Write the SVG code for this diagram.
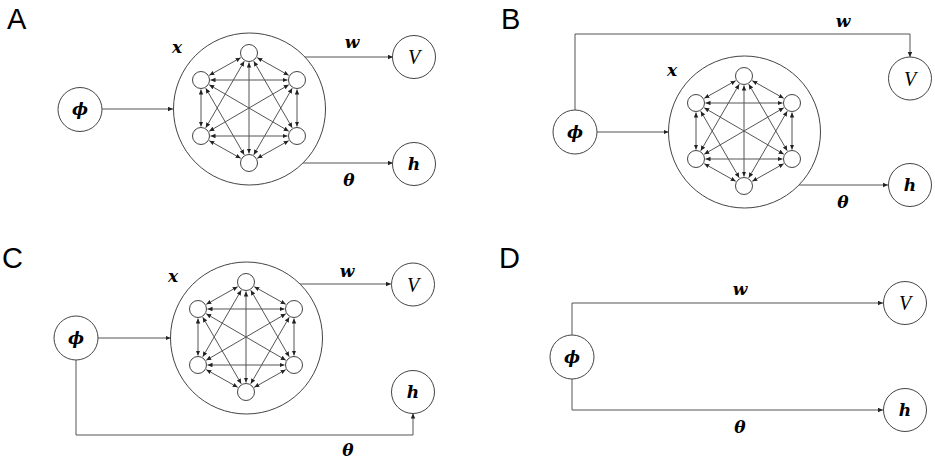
<svg xmlns="http://www.w3.org/2000/svg" xmlns:xlink="http://www.w3.org/1999/xlink" width="935" height="461" viewBox="0 0 935 461">
<style>
.bg{fill:#ffffff}
.nd{fill:#ffffff;stroke:#444;stroke-width:1}
.ln{fill:none;stroke:#555;stroke-width:1}
.ar{marker-end:url(#ah)}
.bi{marker-start:url(#ah);marker-end:url(#ah)}
.panel{font-family:"Liberation Sans",Arial,sans-serif;font-size:29px;fill:#000}
.m{font-family:"DejaVu Serif","Liberation Serif",serif;font-size:17px;font-style:italic;font-weight:bold;fill:#000;text-anchor:middle}
.mv{font-family:"Liberation Serif","DejaVu Serif",serif;font-size:20px;font-style:italic;fill:#000;text-anchor:middle}
</style>
<defs>
<marker id="ah" markerUnits="userSpaceOnUse" markerWidth="6" markerHeight="5" refX="5" refY="2.25" orient="auto-start-reverse">
<path d="M0,0 L5,2.25 L0,4.5 z" fill="#222"/>
</marker>
<g id="mesh">
<g class="ln">
<line class="bi" x1="8.28" y1="-50.34" x2="39.72" y2="-32.66"/>
<line class="bi" x1="4.76" y1="-46.78" x2="43.24" y2="19.78"/>
<line class="bi" x1="0" y1="-45.5" x2="0" y2="45.5"/>
<line class="bi" x1="-4.76" y1="-46.78" x2="-43.24" y2="19.78"/>
<line class="bi" x1="-8.28" y1="-50.34" x2="-39.72" y2="-32.66"/>
<line class="bi" x1="48" y1="-18.5" x2="48" y2="18.5"/>
<line class="bi" x1="43.24" y1="-19.78" x2="4.76" y2="46.78"/>
<line class="bi" x1="39.79" y1="-23.21" x2="-39.79" y2="23.21"/>
<line class="bi" x1="38.5" y1="-28" x2="-38.5" y2="-28"/>
<line class="bi" x1="39.72" y1="32.66" x2="8.28" y2="50.34"/>
<line class="bi" x1="38.5" y1="28" x2="-38.5" y2="28"/>
<line class="bi" x1="39.79" y1="23.21" x2="-39.79" y2="-23.21"/>
<line class="bi" x1="-8.28" y1="50.34" x2="-39.72" y2="32.66"/>
<line class="bi" x1="-4.76" y1="46.78" x2="-43.24" y2="-19.78"/>
<line class="bi" x1="-48" y1="18.5" x2="-48" y2="-18.5"/>
</g>
<circle class="nd" cx="0" cy="-55" r="8.5"/>
<circle class="nd" cx="48" cy="-28" r="8.5"/>
<circle class="nd" cx="48" cy="28" r="8.5"/>
<circle class="nd" cx="0" cy="55" r="8.5"/>
<circle class="nd" cx="-48" cy="28" r="8.5"/>
<circle class="nd" cx="-48" cy="-28" r="8.5"/>
</g>
</defs>
<rect class="bg" x="0" y="0" width="935" height="461"/>

<!-- Panel labels -->
<text class="panel" x="7" y="29">A</text>
<text class="panel" x="501" y="29">B</text>
<text class="panel" x="2" y="268">C</text>
<text class="panel" x="499" y="268">D</text>

<!-- Connectors -->
<g id="connectors" class="ln">
<!-- A -->
<line class="ar" x1="102" y1="109" x2="173" y2="109"/>
<line class="ar" x1="305" y1="57" x2="393" y2="57"/>
<line class="ar" x1="303" y1="163" x2="393" y2="163"/>
<!-- B -->
<line class="ar" x1="597" y1="132" x2="668.5" y2="132"/>
<path class="ar" d="M575,110 V34 H910 V57"/>
<line class="ar" x1="799" y1="185" x2="888" y2="185"/>
<!-- C -->
<line class="ar" x1="98" y1="338" x2="170.5" y2="338"/>
<line class="ar" x1="299" y1="284" x2="391" y2="284"/>
<path class="ar" d="M76,360 V435 H413 V413.5"/>
<!-- D -->
<path class="ar" d="M572,335 V303 H883"/>
<path class="ar" d="M572,379 V410 H883"/>
</g>

<!-- Panel A -->
<g id="A-x">
<circle class="nd" cx="249.5" cy="109" r="76"/>
<use xlink:href="#mesh" href="#mesh" transform="translate(249,108)"/>
<text class="m" x="177" y="53">x</text>
</g>
<g id="A-phi"><circle class="nd" cx="80" cy="109.5" r="22"/><text class="m" x="80" y="115">ϕ</text></g>
<g id="A-V"><circle class="nd" cx="414" cy="57" r="21.5"/><text class="mv" x="414" y="64">V</text></g>
<g id="A-h"><circle class="nd" cx="414" cy="164" r="21.5"/><text class="m" x="414" y="170">h</text></g>
<text class="m" x="352" y="48">w</text>
<text class="m" x="349" y="186">θ</text>

<!-- Panel B -->
<g id="B-x">
<circle class="nd" cx="744.5" cy="132" r="76"/>
<use xlink:href="#mesh" href="#mesh" transform="translate(744,131)"/>
<text class="m" x="672" y="76">x</text>
</g>
<g id="B-phi"><circle class="nd" cx="575" cy="132" r="22"/><text class="m" x="575" y="138">ϕ</text></g>
<g id="B-V"><circle class="nd" cx="910" cy="78.5" r="21.5"/><text class="mv" x="910" y="86">V</text></g>
<g id="B-h"><circle class="nd" cx="910" cy="185" r="21.5"/><text class="m" x="910" y="191">h</text></g>
<text class="m" x="843" y="27">w</text>
<text class="m" x="843" y="208">θ</text>

<!-- Panel C -->
<g id="C-x">
<circle class="nd" cx="246.5" cy="338" r="76"/>
<use xlink:href="#mesh" href="#mesh" transform="translate(246,337)"/>
<text class="m" x="173" y="282">x</text>
</g>
<g id="C-phi"><circle class="nd" cx="76" cy="338" r="22"/><text class="m" x="76" y="344">ϕ</text></g>
<g id="C-V"><circle class="nd" cx="413" cy="284.5" r="21.5"/><text class="mv" x="413" y="292">V</text></g>
<g id="C-h"><circle class="nd" cx="413" cy="392" r="21.5"/><text class="m" x="413" y="398">h</text></g>
<text class="m" x="347" y="277">w</text>
<text class="m" x="348" y="456">θ</text>

<!-- Panel D -->
<g id="D-phi"><circle class="nd" cx="572" cy="357" r="22"/><text class="m" x="572" y="363">ϕ</text></g>
<g id="D-V"><circle class="nd" cx="905" cy="303" r="21.5"/><text class="mv" x="905" y="310">V</text></g>
<g id="D-h"><circle class="nd" cx="905" cy="410" r="21.5"/><text class="m" x="905" y="416">h</text></g>
<text class="m" x="740" y="295">w</text>
<text class="m" x="740" y="433">θ</text>
</svg>
